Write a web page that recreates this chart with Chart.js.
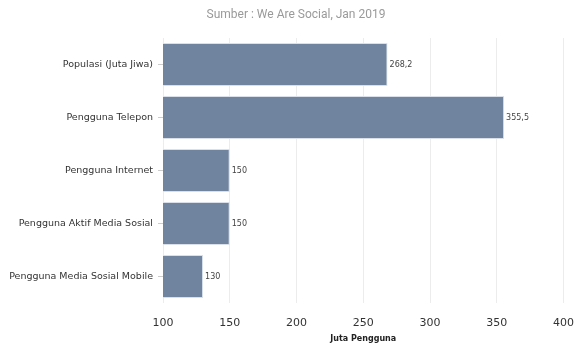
<!DOCTYPE html>
<html>
<head>
<meta charset="utf-8">
<script src="https://cdn.jsdelivr.net/npm/chart.js@4/dist/chart.umd.min.js"></script>
<style>
  html, body { margin: 0; padding: 0; background: #fff; }
  #wrap { width: 574px; height: 347px; }
</style>
</head>
<body>
<div id="wrap"><canvas id="chart" width="574" height="347"></canvas></div>
<script>
// data
const categories = [
  'Populasi (Juta Jiwa)',
  'Pengguna Telepon',
  'Pengguna Internet',
  'Pengguna Aktif Media Sosial',
  'Pengguna Media Sosial Mobile',
];
const values = [268.2, 355.5, 150, 150, 130];
const xTicks = [100, 150, 200, 250, 300, 350, 400];
const titleText = 'Sumber : We Are Social, Jan 2019';
const xAxisTitle = 'Juta Pengguna';

const font = '"DejaVu Sans"';

// source line on top, sits a bit right of the canvas centre like the original
const sourceTitle = {
  id: 'sourceTitle',
  afterDraw(chart) {
    const ctx = chart.ctx;
    ctx.save();
    ctx.font = '12px Roboto';
    ctx.fillStyle = '#9a9a9a';
    ctx.textAlign = 'center';
    ctx.textBaseline = 'middle';
    ctx.fillText(titleText, 296, 15);
    ctx.restore();
  },
};

// value labels just right of each bar, comma as decimal sign
const barLabels = {
  id: 'barLabels',
  afterDatasetsDraw(chart) {
    const ctx = chart.ctx;
    const meta = chart.getDatasetMeta(0);
    ctx.save();
    ctx.font = '8px ' + font;
    ctx.fillStyle = '#444';
    ctx.textBaseline = 'middle';
    ctx.textAlign = 'left';
    meta.data.forEach((bar, i) => {
      const txt = String(values[i]).replace('.', ',');
      ctx.fillText(txt, bar.x + 2, bar.y);
    });
    ctx.restore();
  },
};

new Chart(document.getElementById('chart'), {
  type: 'bar',
  data: {
    labels: categories,
    datasets: [{
      data: values,
      backgroundColor: '#71849f',
      borderColor: '#d9e0ea',
      borderWidth: 1,
      borderSkipped: false,
      categoryPercentage: 1,
      barPercentage: 0.81,
    }],
  },
  options: {
    indexAxis: 'y',
    responsive: false,
    animation: false,
    layout: { padding: { left: 6, right: 0, top: 38, bottom: 0 } },
    plugins: {
      legend: { display: false },
      tooltip: { enabled: false },
      title: { display: false },
    },
    scales: {
      x: {
        min: 100,
        max: 400,
        afterBuildTicks(scale) {
          scale.ticks = xTicks.map((v) => ({ value: v }));
        },
        grid: { color: '#ececec', tickLength: 14, tickColor: 'rgba(0,0,0,0)' },
        border: { display: false },
        ticks: {
          color: '#333',
          padding: 0,
          font: { family: font, size: 11 },
        },
        title: {
          display: true,
          text: xAxisTitle,
          color: '#222',
          font: { family: font, size: 8, weight: 'bold' },
          padding: { top: 4, bottom: 3 },
        },
        afterFit(scale) { scale.height = 44; },
      },
      y: {
        grid: {
          offset: false,
          drawOnChartArea: false,
          tickLength: 5,
          color: '#cccccc',
        },
        border: { display: false },
        ticks: {
          color: '#333',
          padding: 5,
          font: { family: font, size: 9.5 },
        },
        afterFit(scale) { scale.width = 157; },
      },
    },
  },
  plugins: [sourceTitle, barLabels],
});
</script>
</body>
</html>
